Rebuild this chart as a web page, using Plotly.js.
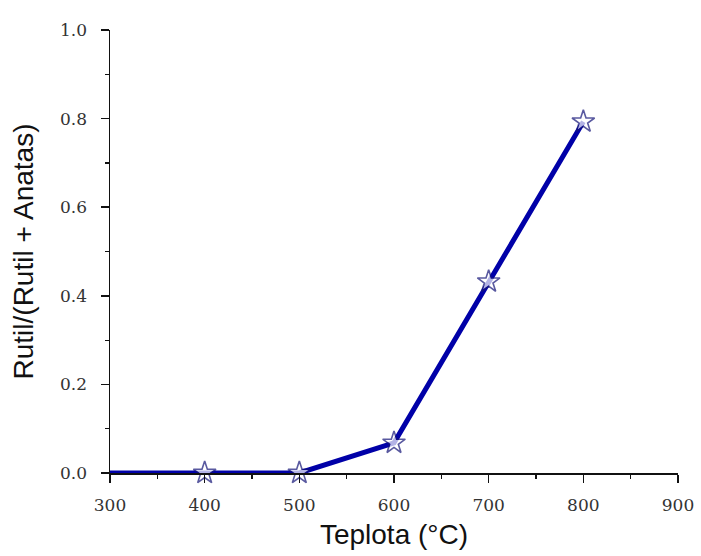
<!DOCTYPE html>
<html>
<head>
<meta charset="utf-8">
<script src="https://cdn.plot.ly/plotly-3.0.1.min.js"></script>
<style>html,body{margin:0;padding:0;background:#fff;}#chart{width:701px;height:556px;}</style>
</head>
<body>
<div id="chart"></div>
<script>
const temperatures = [300, 400, 500, 600, 700, 800];
const rutileFraction = [0.0, 0.0, 0.0, 0.068, 0.432, 0.793];
const markerSizes = [0, 17, 17, 17, 17, 17];

const trace = {
  x: temperatures,
  y: rutileFraction,
  type: 'scatter',
  mode: 'lines+markers',
  line: {color: '#0000a8', width: 5},
  marker: {symbol: 'star', size: markerSizes, color: '#ffffff', line: {color: '#141478', width: 1.6}},
  cliponaxis: false,
  hoverinfo: 'x+y'
};

const tickFont = {family: 'DejaVu Serif, Liberation Serif, serif', size: 17, color: '#333'};
const titleFont = {family: 'Liberation Sans, Arial, sans-serif', size: 28, color: '#111'};

const layout = {
  width: 701, height: 556,
  margin: {l: 110, r: 23, t: 30, b: 83},
  paper_bgcolor: '#fff', plot_bgcolor: '#fff',
  showlegend: false,
  xaxis: {
    range: [300, 900], dtick: 100, tick0: 300,
    showgrid: false, zeroline: false,
    showline: true, linecolor: '#111', linewidth: 1.5,
    ticks: 'outside', ticklen: 8, tickwidth: 1.5, tickcolor: '#111',
    ticklabelstandoff: 8,
    minor: {dtick: 50, ticks: 'outside', ticklen: 4, tickwidth: 1.2, tickcolor: '#111', showgrid: false},
    tickfont: tickFont,
    title: {text: 'Teplota (°C)', font: titleFont, standoff: 10}
  },
  yaxis: {
    range: [0, 1.0], dtick: 0.2, tick0: 0, tickformat: '.1f',
    showgrid: false, zeroline: false,
    showline: true, linecolor: '#111', linewidth: 1.5,
    ticks: 'outside', ticklen: 8, tickwidth: 1.5, tickcolor: '#111',
    ticklabelstandoff: 10,
    minor: {dtick: 0.1, ticks: 'outside', ticklen: 4, tickwidth: 1.2, tickcolor: '#111', showgrid: false},
    tickfont: tickFont,
    title: {text: 'Rutil/(Rutil + Anatas)', font: titleFont, standoff: 18}
  }
};

Plotly.newPlot('chart', [trace], layout, {displayModeBar: false, staticPlot: true});
</script>
</body>
</html>
